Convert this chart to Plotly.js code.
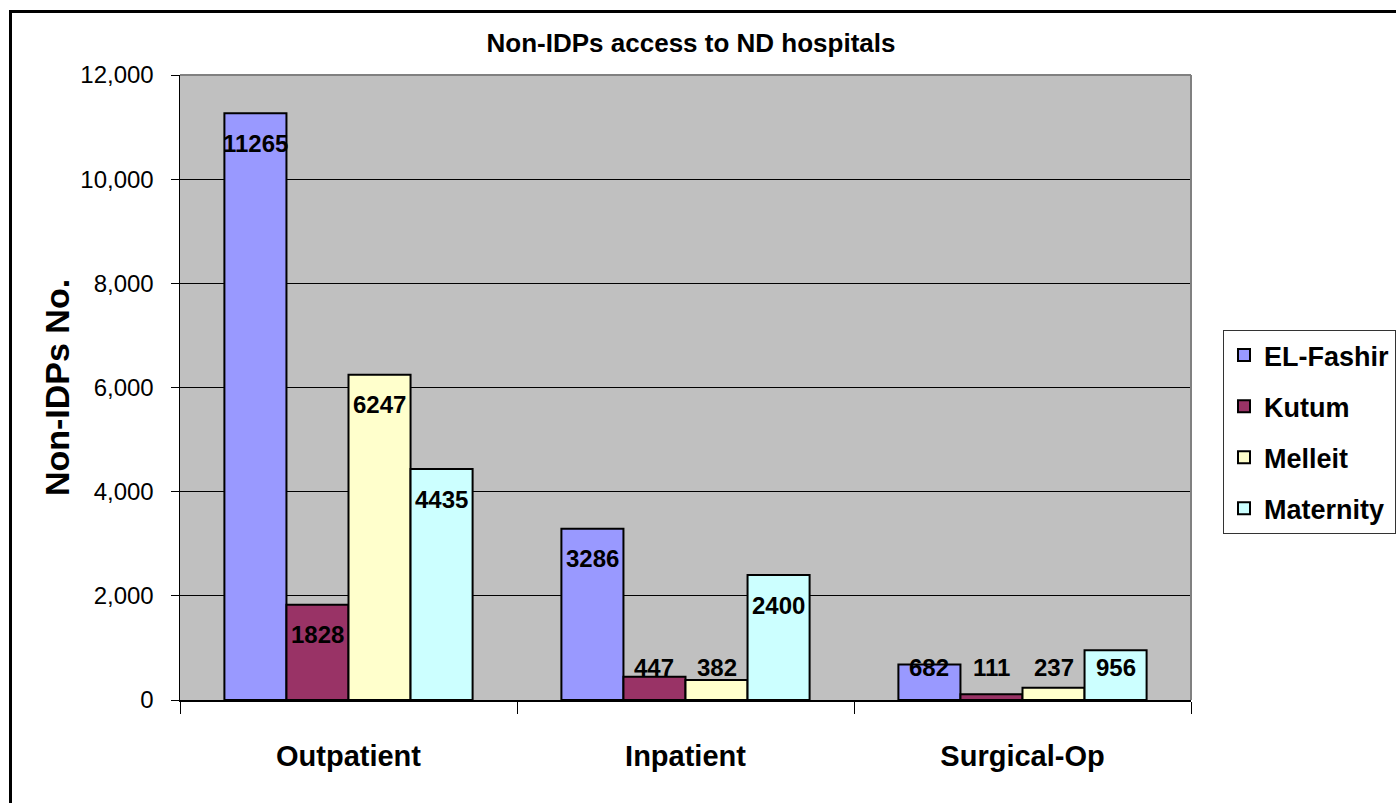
<!DOCTYPE html>
<html>
<head>
<meta charset="utf-8">
<script src="https://cdn.plot.ly/plotly-3.0.1.min.js"></script>
<style>
  html, body { margin: 0; padding: 0; background: #fff; overflow: hidden; }
  #chart { width: 1396px; height: 803px; }
</style>
</head>
<body>
<div id="chart"></div>
<script>
// ---- data ----
const categories = ['Outpatient', 'Inpatient', 'Surgical-Op'];
const seriesNames = ['EL-Fashir', 'Kutum', 'Melleit', 'Maternity'];
const elFashir  = [11265, 3286, 682];
const kutum     = [1828, 447, 111];
const melleit   = [6247, 382, 237];
const maternity = [4435, 2400, 956];
const yTickVals = [0, 2000, 4000, 6000, 8000, 10000, 12000];

// ---- styles ----
const seriesValues = [elFashir, kutum, melleit, maternity];
const colors = ['#9999FF', '#993366', '#FFFFCC', '#CCFFFF'];
const FONT = '"Liberation Sans", Arial, sans-serif';
const BARGAP = 0.2635;
const nS = seriesValues.length;
const barW = (1 - BARGAP) / nS;
const Y_MAX = 12000;
const PLOT_H = 625;
const unitsPerPx = Y_MAX / PLOT_H;
const LABEL_OFFSET_PX = 30;   // label centre below bar top
const LABEL_MIN_PX = 33;      // label centre at least this far above baseline

const traces = seriesValues.map((vals, j) => ({
  type: 'bar',
  name: seriesNames[j],
  x: categories,
  y: vals,
  legendgroup: 'g' + j,
  marker: { color: colors[j], line: { color: '#000', width: 2 } },
  textposition: 'none',
  hoverinfo: 'x+y+name'
}));

const annotations = [];
seriesValues.forEach((vals, j) => {
  vals.forEach((v, i) => {
    annotations.push({
      x: i + (j - (nS - 1) / 2) * barW,
      xref: 'x', yref: 'y',
      y: Math.max(v - LABEL_OFFSET_PX * unitsPerPx, LABEL_MIN_PX * unitsPerPx),
      text: String(v),
      showarrow: false,
      xanchor: 'center', yanchor: 'middle',
      font: { family: FONT, size: 24, color: '#000', weight: 'bold' }
    });
  });
});

const L = 180, R = 205, T = 75, B = 103;
const plotW = 1396 - L - R;

const layout = {
  width: 1396, height: 803,
  margin: { l: L, r: R, t: T, b: B, pad: 0 },
  paper_bgcolor: '#FFFFFF',
  plot_bgcolor: '#C0C0C0',
  barmode: 'group',
  bargap: BARGAP,
  bargroupgap: 0,
  showlegend: true,
  title: {
    text: 'Non-IDPs access to ND hospitals',
    font: { family: FONT, size: 26, color: '#000', weight: 'bold' },
    xref: 'container', x: 0.495, xanchor: 'center',
    yref: 'container', y: 1 - 43 / 803, yanchor: 'middle'
  },
  xaxis: {
    type: 'category',
    tickson: 'boundaries',
    ticks: 'outside', ticklen: 12, tickcolor: '#000', tickwidth: 1,
    showline: true, linecolor: '#000', linewidth: 1.5,
    showgrid: false, zeroline: false,
    ticklabelstandoff: 30,
    tickfont: { family: FONT, size: 29, color: '#000', weight: 'bold' }
  },
  yaxis: {
    range: [0, Y_MAX],
    tickvals: yTickVals,
    tickformat: ',d',
    ticks: 'outside', ticklen: 8, tickcolor: '#000', tickwidth: 1,
    showline: true, linecolor: '#000', linewidth: 1.5,
    showgrid: true, gridcolor: '#000', gridwidth: 1,
    zeroline: false,
    ticklabelstandoff: 12,
    tickfont: { family: FONT, size: 24, color: '#000' },
    title: {
      text: 'Non-IDPs No.',
      font: { family: FONT, size: 34, color: '#000', weight: 'bold' },
      standoff: 0
    }
  },
  legend: {
    xref: 'container', x: 1223 / 1396, xanchor: 'left',
    yref: 'container', y: 1 - 330 / 803, yanchor: 'top',
    bgcolor: '#FFFFFF', bordercolor: '#333', borderwidth: 1,
    font: { family: FONT, size: 27, color: '#000', weight: 'bold' },
    tracegroupgap: 13,
    traceorder: 'grouped'
  },
  annotations: annotations,
  shapes: [
    // plot area top & right edges (gray)
    { type: 'line', xref: 'paper', yref: 'paper', x0: 0, x1: 1, y0: 1, y1: 1,
      line: { color: '#808080', width: 2 }, layer: 'above' },
    { type: 'line', xref: 'paper', yref: 'paper', x0: 1, x1: 1, y0: 0, y1: 1,
      line: { color: '#808080', width: 2 }, layer: 'above' },
    // outer chart border (left & top visible)
    { type: 'rect', xref: 'paper', yref: 'paper',
      x0: (10.5 - L) / plotW, x1: (1450 - L) / plotW,
      y0: (700 - 860) / PLOT_H, y1: (700 - 11.5) / PLOT_H,
      line: { color: '#000', width: 3 }, fillcolor: 'rgba(0,0,0,0)', layer: 'above' }
  ]
};

Plotly.newPlot('chart', traces, layout, { staticPlot: true, displayModeBar: false });
</script>
</body>
</html>
